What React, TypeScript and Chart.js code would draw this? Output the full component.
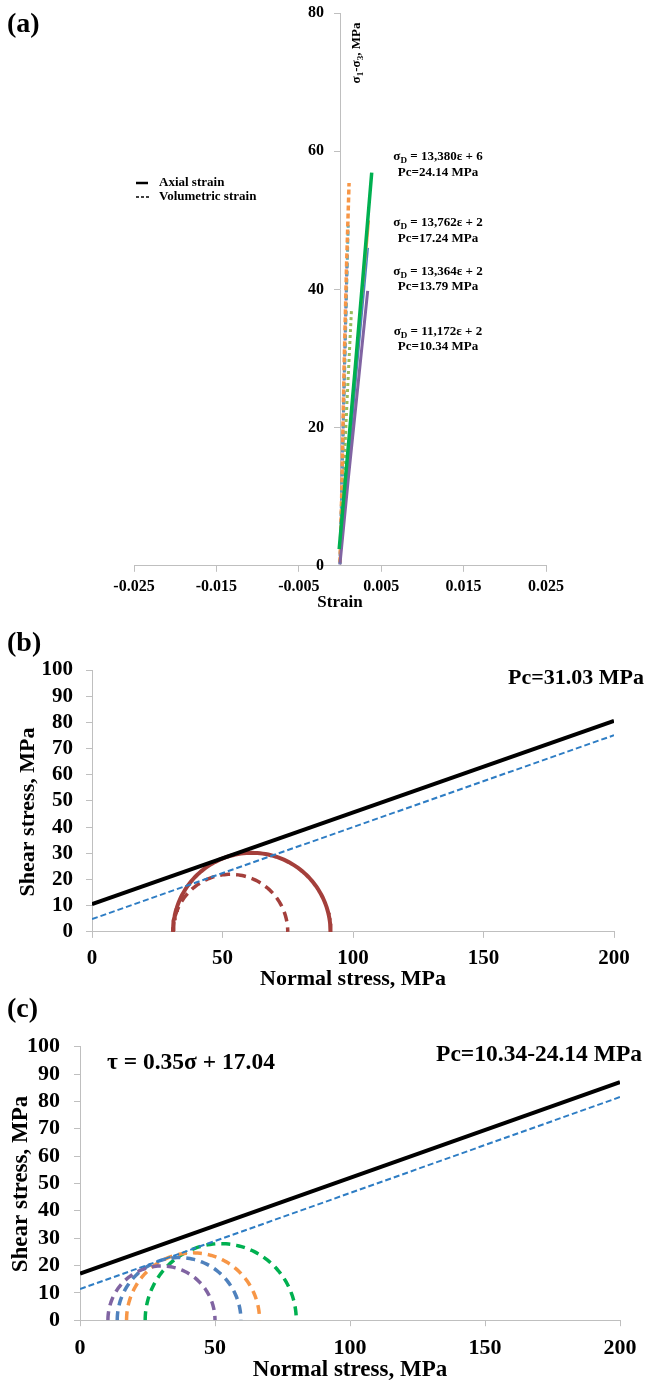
import { useEffect, useRef } from 'react';
import { Chart, registerables } from 'chart.js';
Chart.register(...registerables);

const FONT = "'Liberation Serif', 'Times New Roman', serif";
const GRAY = '#bfbfbf';

// ---------- Panel (a) data ----------
const aXTicks = [-0.025, -0.015, -0.005, 0.005, 0.015, 0.025];
const aYTicks = [0, 20, 40, 60, 80];

const axial2414Strain = [-0.0001, 0.0008, 0.0018, 0.0028, 0.00385];
const axial2414Stress = [2.4, 14.5, 28, 42, 56.9];
const axial1724Strain = [0.0, 0.0005, 0.0015, 0.0025, 0.0035];
const axial1724Stress = [1, 8.5, 22, 36, 50];
const axial1379Strain = [0.0, 0.001, 0.002, 0.00343];
const axial1379Stress = [0.5, 14, 27.5, 46];
const axial1034Strain = [0.0, 0.001, 0.002, 0.00336];
const axial1034Stress = [0.3, 12.5, 24, 39.8];

const vol2414Strain = [0.0001, 0.0004, 0.0009, 0.0014];
const vol2414Stress = [2.6, 12, 25, 37.2];
const vol1724Strain = [0.0, 0.0002, 0.0005, 0.0008, 0.0011];
const vol1724Stress = [0.5, 9.8, 29, 43.7, 55.4];
const vol1379Strain = [0.0, 0.0002, 0.0005, 0.0008, 0.001];
const vol1379Stress = [0.3, 10, 25, 40, 49.3];
const vol1034Strain = [0.0, 0.0002, 0.0005, 0.00085];
const vol1034Stress = [0.2, 10, 27, 44];

// ---------- Panel (b) data ----------
const mohrXTicks = [0, 50, 100, 150, 200];
const mohrYTicks = [0, 10, 20, 30, 40, 50, 60, 70, 80, 90, 100];
const bEnvelopeX = [0, 200];
const bPeakY = [10.6, 80.6];
const bResidualY = [4.9, 75.1];
const bSigma3 = [31.03, 31.03];
const bSigma1 = [91.4, 75.0];

// ---------- Panel (c) data ----------
const cEnvelopeX = [0, 200];
const cPeakY = [17.04, 87.04];
const cResidualY = [11.4, 81.6];
const cSigma3 = [10.34, 13.79, 17.24, 24.14];
const cSigma1 = [50.0, 59.6, 66.5, 80.1];

const GREEN = '#00B050';
const ORANGE = '#F79646';
const BLUE = '#4F81BD';
const CYAN = '#4BACC6';
const PURPLE = '#8064A2';
const OLIVE = '#9BBB59';
const RED = '#A43F3B';
const DASHBLUE = '#2E7DC4';

const pts = (xs: number[], ys: number[]) => xs.map((x, i) => ({ x, y: ys[i] }));

// Mohr semicircle through (sigma3, 0) and (sigma1, 0)
function mohrArc(s3: number, s1: number) {
  const c = (s1 + s3) / 2;
  const r = (s1 - s3) / 2;
  const out: { x: number; y: number }[] = [];
  const n = 90;
  for (let i = 0; i <= n; i++) {
    const a = (Math.PI * i) / n;
    out.push({ x: c - r * Math.cos(a), y: r * Math.sin(a) });
  }
  return out;
}

type Part = { t: string; sub?: boolean };
type TextItem = { parts: Part[]; x: number; y: number; size: number; align: 'left' | 'center' | 'right'; rotate?: boolean };
type LineItem = { x1: number; y1: number; x2: number; y2: number; dash: number[]; width: number };

function textPlugin(texts: TextItem[], lines: LineItem[] = []) {
  return {
    id: 'texts',
    afterDraw(chart: any) {
      const ctx: CanvasRenderingContext2D = chart.ctx;
      ctx.save();
      lines.forEach((l) => {
        ctx.beginPath();
        ctx.setLineDash(l.dash);
        ctx.lineWidth = l.width;
        ctx.strokeStyle = '#000';
        ctx.moveTo(l.x1, l.y1);
        ctx.lineTo(l.x2, l.y2);
        ctx.stroke();
      });
      ctx.setLineDash([]);
      ctx.fillStyle = '#000';
      ctx.textBaseline = 'middle';
      texts.forEach((item) => {
        const fontFor = (p: Part) => `bold ${p.sub ? item.size * 0.7 : item.size}px ${FONT}`;
        let total = 0;
        item.parts.forEach((p) => {
          ctx.font = fontFor(p);
          total += ctx.measureText(p.t).width;
        });
        ctx.save();
        ctx.translate(item.x, item.y);
        if (item.rotate) ctx.rotate(-Math.PI / 2);
        let x = item.align === 'left' ? 0 : item.align === 'center' ? -total / 2 : -total;
        ctx.textAlign = 'left';
        item.parts.forEach((p) => {
          ctx.font = fontFor(p);
          ctx.fillText(p.t, x, p.sub ? item.size * 0.28 : 0);
          x += ctx.measureText(p.t).width;
        });
        ctx.restore();
      });
      ctx.restore();
    },
  };
}

const axisStyle = (tickSize: number, tickPad: number) => ({
  border: { display: true, color: GRAY, width: 1 },
  grid: { display: true, drawOnChartArea: false, drawTicks: true, tickLength: 6, color: GRAY, lineWidth: 1 },
  ticks: {
    color: '#000',
    font: { family: FONT, size: tickSize, weight: 'bold' as const },
    padding: tickPad,
    autoSkip: false,
    maxRotation: 0,
    minRotation: 0,
  },
});

const baseOptions = (padding: any) => ({
  responsive: false,
  animation: false as const,
  devicePixelRatio: 1,
  events: [] as any[],
  layout: { padding },
  plugins: { legend: { display: false }, tooltip: { enabled: false } },
  elements: { point: { radius: 0 }, line: { tension: 0 } },
});

const lineDs = (data: any[], color: string, width: number, dash: number[] = [], order = 0) => ({
  data,
  borderColor: color,
  backgroundColor: color,
  borderWidth: width,
  borderDash: dash,
  borderCapStyle: 'butt' as const,
  pointRadius: 0,
  fill: false,
  order,
});

function buildA() {
  const sd = (rest: string): Part[] => [{ t: 'σ' }, { t: 'D', sub: true }, { t: rest }];
  const texts: TextItem[] = [
    { parts: [{ t: '(a)' }], x: 7, y: 25, size: 28, align: 'left' },
    { parts: [{ t: 'Axial strain' }], x: 159, y: 183, size: 13, align: 'left' },
    { parts: [{ t: 'Volumetric strain' }], x: 159, y: 197, size: 13, align: 'left' },
    { parts: sd(' = 13,380ε + 6'), x: 438, y: 157, size: 13, align: 'center' },
    { parts: [{ t: 'Pc=24.14 MPa' }], x: 438, y: 173, size: 13, align: 'center' },
    { parts: sd(' = 13,762ε + 2'), x: 438, y: 223, size: 13, align: 'center' },
    { parts: [{ t: 'Pc=17.24 MPa' }], x: 438, y: 239, size: 13, align: 'center' },
    { parts: sd(' = 13,364ε + 2'), x: 438, y: 272, size: 13, align: 'center' },
    { parts: [{ t: 'Pc=13.79 MPa' }], x: 438, y: 287, size: 13, align: 'center' },
    { parts: sd(' = 11,172ε + 2'), x: 438, y: 332, size: 13, align: 'center' },
    { parts: [{ t: 'Pc=10.34 MPa' }], x: 438, y: 347, size: 13, align: 'center' },
    {
      parts: [{ t: 'σ' }, { t: '1', sub: true }, { t: '-σ' }, { t: '3', sub: true }, { t: ', MPa' }],
      x: 357, y: 53, size: 13, align: 'center', rotate: true,
    },
  ];
  const lines: LineItem[] = [
    { x1: 136, y1: 183, x2: 148, y2: 183, dash: [], width: 2.5 },
    { x1: 136, y1: 197, x2: 149, y2: 197, dash: [3, 2], width: 1.5 },
  ];
  return {
    type: 'line' as const,
    data: {
      datasets: [
        lineDs(pts(vol2414Strain, vol2414Stress), OLIVE, 3, [3, 3], 5),
        lineDs(pts(vol1034Strain, vol1034Stress), PURPLE, 3, [5, 3], 4),
        lineDs(pts(vol1379Strain, vol1379Stress), CYAN, 3, [5, 3], 3),
        lineDs(pts(vol1724Strain, vol1724Stress), ORANGE, 3.5, [5, 3], 2),
        lineDs(pts(axial1034Strain, axial1034Stress), PURPLE, 3, [], 1),
        lineDs(pts(axial1379Strain, axial1379Stress), BLUE, 1.5, [], 1),
        lineDs(pts(axial1724Strain, axial1724Stress), ORANGE, 2.5, [], 1),
        lineDs(pts(axial2414Strain, axial2414Stress), GREEN, 3.5, [], 0),
      ],
    },
    options: {
      ...baseOptions({ left: 134, right: 100, top: 13, bottom: 7.5 }),
      scales: {
        x: {
          type: 'linear' as const,
          min: -0.025,
          max: 0.025,
          ...axisStyle(16, 5),
          ticks: { ...axisStyle(16, 5).ticks, callback: (v: any) => Number(v).toFixed(3) },
          afterBuildTicks: (s: any) => { s.ticks = aXTicks.map((value) => ({ value })); },
          title: { display: true, text: 'Strain', color: '#000', font: { family: FONT, size: 17, weight: 'bold' as const }, padding: 0 },
          afterFit: (s: any) => { s.height = 46.7; },
        },
        y: {
          type: 'linear' as const,
          position: { x: 0 },
          min: 0,
          max: 80,
          ...axisStyle(16, 0),
          ticks: { ...axisStyle(16, 0).ticks, callback: (v: any) => `${v}\u2002\u2002` },
          afterBuildTicks: (s: any) => { s.ticks = aYTicks.map((value) => ({ value })); },
          afterFit: (s: any) => { s.width = 0; },
        },
      },
    },
    plugins: [textPlugin(texts, lines)],
  };
}

function mohrOptions(pad: any, wy: number, hx: number, tickSize: number, yPad: number, xPad: number, titleSize: number) {
  return {
    ...baseOptions(pad),
    scales: {
      x: {
        type: 'linear' as const,
        min: 0,
        max: 200,
        ...axisStyle(tickSize, xPad),
        afterBuildTicks: (s: any) => { s.ticks = mohrXTicks.map((value) => ({ value })); },
        title: { display: true, text: 'Normal stress, MPa', color: '#000', font: { family: FONT, size: titleSize, weight: 'bold' as const }, padding: 0 },
        afterFit: (s: any) => { s.height = hx; },
      },
      y: {
        type: 'linear' as const,
        min: 0,
        max: 100,
        ...axisStyle(tickSize, yPad),
        afterBuildTicks: (s: any) => { s.ticks = mohrYTicks.map((value) => ({ value })); },
        afterFit: (s: any) => { s.width = wy; },
      },
    },
  };
}

function buildB() {
  const texts: TextItem[] = [
    { parts: [{ t: '(b)' }], x: 7, y: 24, size: 28, align: 'left' },
    { parts: [{ t: 'Pc=31.03 MPa' }], x: 644, y: 58, size: 22, align: 'right' },
    { parts: [{ t: 'Shear stress, MPa' }], x: 28, y: 192, size: 22, align: 'center', rotate: true },
  ];
  return {
    type: 'line' as const,
    data: {
      datasets: [
        lineDs(mohrArc(bSigma3[1], bSigma1[1]), RED, 3.5, [10, 6], 3),
        lineDs(mohrArc(bSigma3[0], bSigma1[0]), RED, 4, [], 2),
        lineDs(pts(bEnvelopeX, bResidualY), DASHBLUE, 2, [6, 3], 1),
        lineDs(pts(bEnvelopeX, bPeakY), '#000', 4, [], 0),
      ],
    },
    options: mohrOptions({ left: 15, right: 32, top: 50, bottom: 2.5 }, 77, 60.6, 21, 13, 8, 22),
    plugins: [textPlugin(texts)],
  };
}

function buildC() {
  const texts: TextItem[] = [
    { parts: [{ t: '(c)' }], x: 7, y: 15, size: 28, align: 'left' },
    { parts: [{ t: 'τ = 0.35σ + 17.04' }], x: 107, y: 68, size: 23.5, align: 'left' },
    { parts: [{ t: 'Pc=10.34-24.14 MPa' }], x: 642, y: 60, size: 23.5, align: 'right' },
    { parts: [{ t: 'Shear stress, MPa' }], x: 21, y: 189, size: 23, align: 'center', rotate: true },
  ];
  const colors = [PURPLE, BLUE, ORANGE, GREEN];
  return {
    type: 'line' as const,
    data: {
      datasets: [
        ...cSigma3.map((s3, i) => lineDs(mohrArc(s3, cSigma1[i]), colors[i], 3.5, [9, 6], 2)),
        lineDs(pts(cEnvelopeX, cResidualY), DASHBLUE, 2, [6, 3], 1),
        lineDs(pts(cEnvelopeX, cPeakY), '#000', 4, [], 0),
      ],
    },
    options: mohrOptions({ left: 8, right: 26, top: 51.7, bottom: 0.5 }, 72, 63.3, 22, 14, 9, 23),
    plugins: [textPlugin(texts)],
  };
}

function ChartCanvas({ top, height, build }: { top: number; height: number; build: () => any }) {
  const ref = useRef<HTMLCanvasElement>(null);
  useEffect(() => {
    const chart = new Chart(ref.current as HTMLCanvasElement, build());
    return () => chart.destroy();
  }, []);
  return (
    <canvas
      ref={ref}
      width={646}
      height={height}
      style={{ position: 'absolute', left: 0, top, width: 646, height, display: 'block' }}
    />
  );
}

export default function App() {
  return (
    <div style={{ position: 'absolute', left: 0, top: 0, width: 646, height: 1384, background: '#fff' }}>
      <ChartCanvas top={0} height={620} build={buildA} />
      <ChartCanvas top={620} height={375} build={buildB} />
      <ChartCanvas top={995} height={389} build={buildC} />
    </div>
  );
}
